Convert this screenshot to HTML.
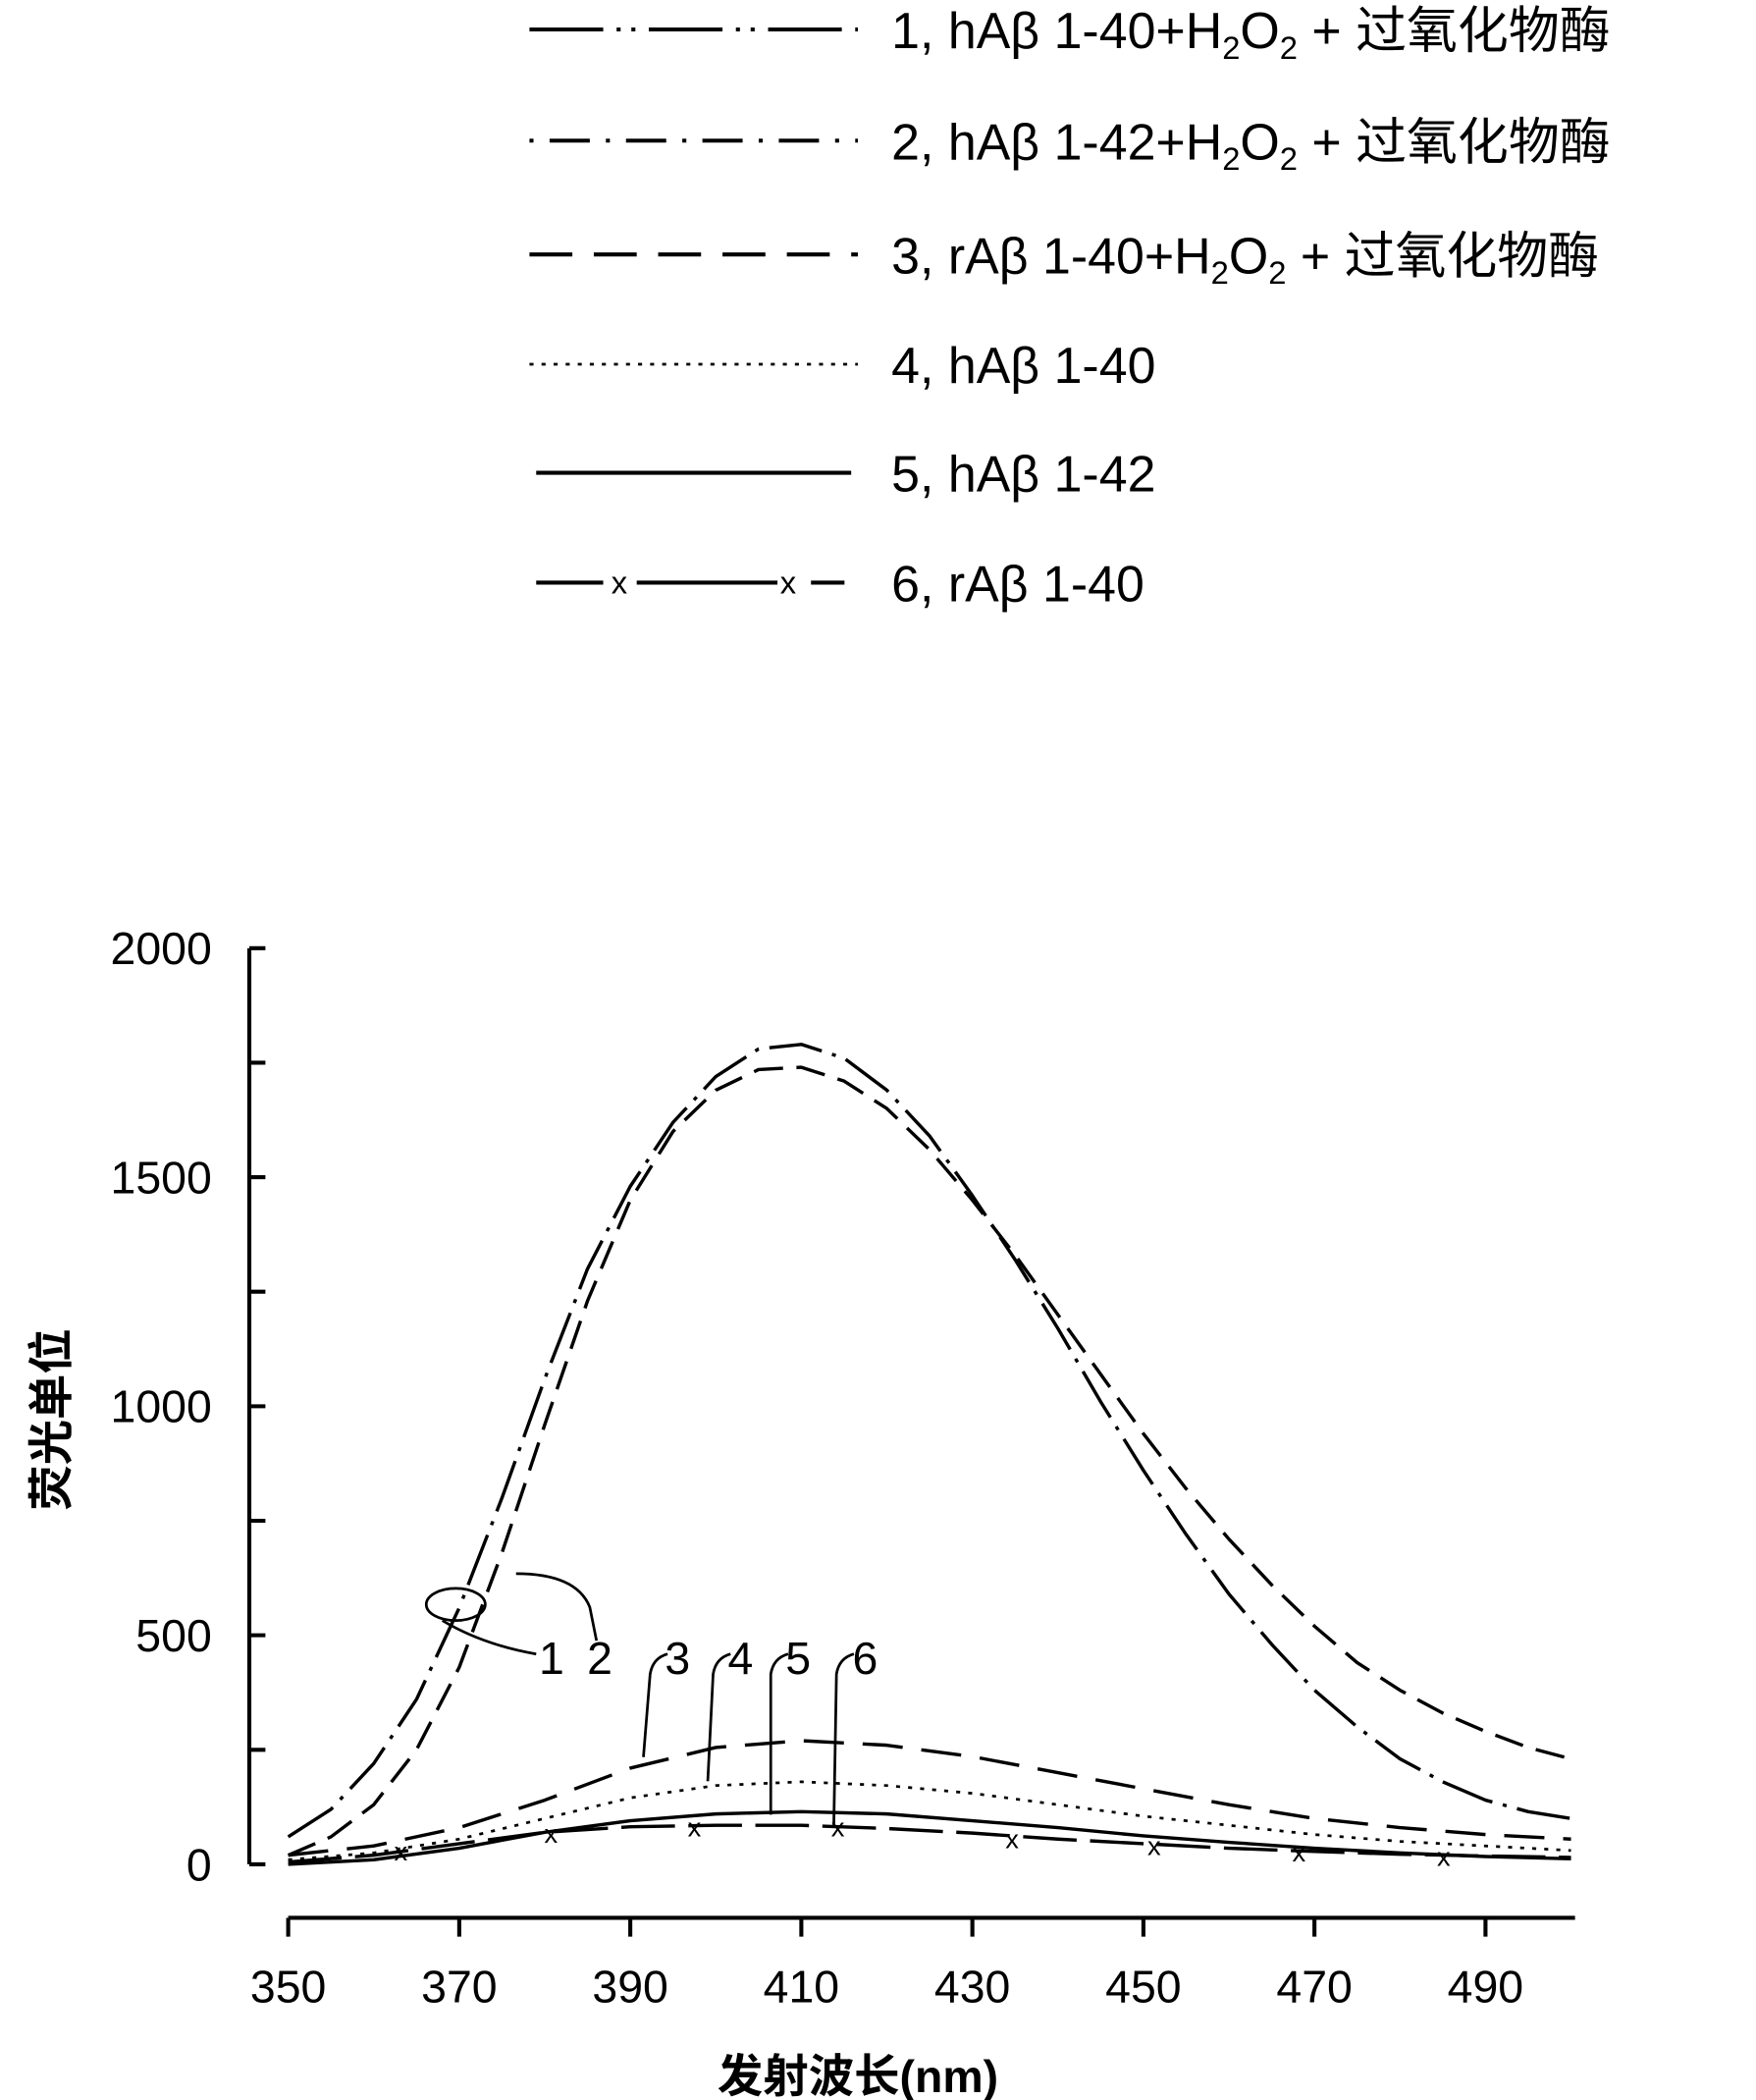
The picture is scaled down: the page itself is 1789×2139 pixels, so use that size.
<!DOCTYPE html>
<html><head><meta charset="utf-8">
<style>
html,body{margin:0;padding:0;background:#fff}
svg{display:block}
text{font-family:"Liberation Sans","Noto Sans CJK SC",sans-serif;fill:#000}
</style></head>
<body>
<svg width="1789" height="2139" viewBox="0 0 1310 1568" preserveAspectRatio="none" xmlns="http://www.w3.org/2000/svg">
<g stroke="#000" fill="none" stroke-width="3">
<path d="M395 22 H640" stroke-dasharray="55,10,3,8,3,10"/>
<path d="M395 105 H640" stroke-dasharray="3,12,30,12"/>
<path d="M395 190 H640" stroke-dasharray="32,16"/>
<path d="M395 272 H640" stroke-dasharray="3,6" stroke-width="2"/>
<path d="M400 353 H635"/>
<path d="M400 435 H450 M475 435 H580 M605 435 H630"/>
</g>
<g font-size="24"><text x="456" y="443">x</text><text x="582" y="443">x</text></g>
<g font-size="38">
<text x="665" y="36">1, hAβ 1-40+H<tspan font-size="24" dy="8">2</tspan><tspan dy="-8">O</tspan><tspan font-size="24" dy="8">2</tspan><tspan dy="-8"> + 过氧化物酶</tspan></text>
<text x="665" y="119">2, hAβ 1-42+H<tspan font-size="24" dy="8">2</tspan><tspan dy="-8">O</tspan><tspan font-size="24" dy="8">2</tspan><tspan dy="-8"> + 过氧化物酶</tspan></text>
<text x="665" y="204">3, rAβ 1-40+H<tspan font-size="24" dy="8">2</tspan><tspan dy="-8">O</tspan><tspan font-size="24" dy="8">2</tspan><tspan dy="-8"> + 过氧化物酶</tspan></text>
<text x="665" y="286">4, hAβ 1-40</text>
<text x="665" y="367">5, hAβ 1-42</text>
<text x="665" y="449">6, rAβ 1-40</text>
</g>
<g stroke="#000" stroke-width="3" fill="none">
<path d="M186 708 V1392"/>
<path d="M215 1432 H1175"/>
<path d="M186 708h12M186 793.5h12M186 879h12M186 964.5h12M186 1050h12M186 1135.5h12M186 1221h12M186 1306.5h12M186 1392h12"/>
<path d="M215 1432v14M342.6 1432v14M470.2 1432v14M597.8 1432v14M725.4 1432v14M853 1432v14M980.6 1432v14M1108.2 1432v14"/>
</g>
<g font-size="34" text-anchor="end">
<text x="158" y="720">2000</text>
<text x="158" y="891">1500</text>
<text x="158" y="1062">1000</text>
<text x="158" y="1233">500</text>
<text x="158" y="1404">0</text>
</g>
<g font-size="34" text-anchor="middle">
<text x="215" y="1495">350</text><text x="342.6" y="1495">370</text><text x="470.2" y="1495">390</text><text x="597.8" y="1495">410</text><text x="725.4" y="1495">430</text><text x="853" y="1495">450</text><text x="980.6" y="1495">470</text><text x="1108.2" y="1495">490</text>
</g>
<text x="640" y="1562" font-size="34" text-anchor="middle" font-weight="bold">发射波长(nm)</text>
<text x="0" y="0" font-size="34" font-weight="bold" transform="translate(50,1060) rotate(-90)" text-anchor="middle">荧光单位</text>
<g stroke="#000" fill="none" stroke-width="2.5" stroke-linejoin="round">
<polyline stroke-dasharray="40,8,3,8" points="215,1371.5 246.9,1351 278.8,1316.8 310.7,1268.9 342.6,1200.5 374.5,1118.4 406.4,1029.5 438.3,947.4 470.2,885.8 502.1,838 534,803.8 565.9,783.2 597.8,779.8 629.7,790.1 661.6,814 693.5,848.2 725.4,892.7 757.3,940.6 789.2,991.9 821.1,1046.6 853,1097.9 884.9,1145.8 916.8,1190.2 948.7,1227.8 980.6,1262 1012.5,1289.4 1044.4,1313.3 1076.3,1330.4 1108.2,1344.1 1140.1,1352.7 1172,1357.8"/>
<polyline stroke-dasharray="22,10" points="215,1385.2 246.9,1371.5 278.8,1347.5 310.7,1306.5 342.6,1244.9 374.5,1159.4 406.4,1063.7 438.3,971.3 470.2,896.1 502.1,844.8 534,814 565.9,798.6 597.8,796.9 629.7,807.2 661.6,827.7 693.5,858.5 725.4,896.1 757.3,937.1 789.2,981.6 821.1,1026.1 853,1070.5 884.9,1111.6 916.8,1149.2 948.7,1183.4 980.6,1214.2 1012.5,1241.5 1044.4,1262 1076.3,1279.1 1108.2,1292.8 1140.1,1304.8 1172,1313.3"/>
<polyline stroke-dasharray="30,14" points="215,1385.2 278.8,1378.3 342.6,1364.6 406.4,1344.1 470.2,1320.2 534,1304.8 597.8,1299.7 661.6,1303.1 725.4,1311.6 789.2,1323.6 853,1335.6 916.8,1347.5 980.6,1357.8 1044.4,1364.6 1108.2,1369.8 1172,1373.2"/>
<polyline stroke-dasharray="3,6" stroke-width="2" points="215,1388.6 278.8,1383.5 342.6,1373.2 406.4,1357.8 470.2,1342.4 534,1333.2 597.8,1330.4 661.6,1333.2 725.4,1339 789.2,1347.5 853,1356.1 916.8,1362.9 980.6,1369.8 1044.4,1374.9 1108.2,1378.3 1172,1381.7"/>
<polyline points="215,1392 278.8,1388.6 342.6,1380 406.4,1368.1 470.2,1359.5 534,1354.4 597.8,1352.7 661.6,1354.4 725.4,1359.5 789.2,1364.6 853,1370.8 916.8,1375.6 980.6,1380 1044.4,1383.5 1108.2,1386.2 1172,1387.9"/>
<polyline stroke-dasharray="40,10" points="215,1390.3 278.8,1385.2 342.6,1376.6 406.4,1368.1 470.2,1364 534,1362.9 597.8,1362.9 661.6,1365.3 725.4,1368.7 789.2,1373.2 853,1376.6 916.8,1380 980.6,1382.4 1044.4,1384.5 1108.2,1385.8 1172,1386.9"/>
</g>
<g font-size="20">
<text x="294" y="1389">x</text><text x="406" y="1376">x</text><text x="513" y="1371">x</text><text x="620" y="1371">x</text><text x="750" y="1380">x</text><text x="856" y="1385">x</text><text x="964" y="1390">x</text><text x="1072" y="1393">x</text>
</g>
<g stroke="#000" fill="none" stroke-width="2">
<path d="M385 1175 Q430 1175 440 1200 L445 1225"/>
<ellipse cx="340" cy="1198" rx="22" ry="12"/>
<path d="M330 1210 Q360 1228 400 1235"/>
<path d="M480 1312 L485 1250 Q487 1238 498 1235"/>
<path d="M528 1330 L532 1250 Q534 1238 545 1235"/>
<path d="M575 1355 L575 1250 Q577 1238 588 1235"/>
<path d="M622 1365 L624 1250 Q626 1238 637 1235"/>
</g>
<g font-size="34"><text x="402" y="1250">1</text><text x="438" y="1250">2</text><text x="496" y="1250">3</text><text x="543" y="1250">4</text><text x="586" y="1250">5</text><text x="636" y="1250">6</text></g>
</svg>
</body></html>
